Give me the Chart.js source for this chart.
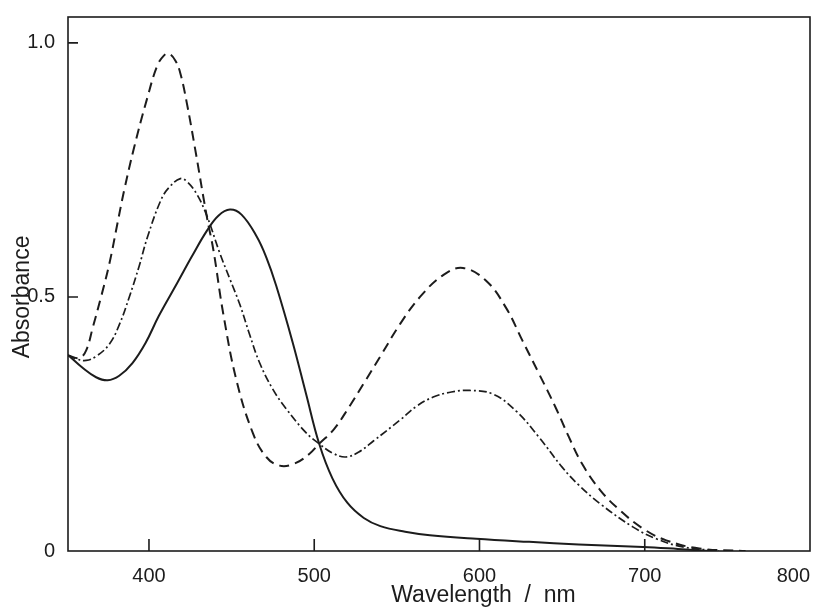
<!DOCTYPE html>
<html>
<head>
<meta charset="utf-8">
<script src="https://cdn.jsdelivr.net/npm/chart.js@4/dist/chart.umd.min.js"></script>
<style>
  html, body { margin: 0; padding: 0; background: #fff; }
  #wrap { width: 821px; height: 608px; }
</style>
</head>
<body>
<div id="wrap"><canvas id="absChart"></canvas></div>
<script>
// solid curve
const solidNm = [351, 360, 368, 375, 382, 390, 398, 406, 417, 426, 435, 442, 449, 456, 465, 471, 477, 487, 495, 503, 511, 520, 530, 540, 555, 570, 598, 630, 660, 699, 720, 739];
const solidAbs = [0.386, 0.36, 0.342, 0.336, 0.345, 0.37, 0.41, 0.463, 0.527, 0.58, 0.63, 0.66, 0.672, 0.662, 0.62, 0.578, 0.522, 0.41, 0.31, 0.211, 0.143, 0.095, 0.065, 0.049, 0.038, 0.031, 0.024, 0.018, 0.013, 0.008, 0.004, 0.0];

// dashed curve
const dashNm = [351, 358, 362, 366, 371, 376, 381, 385, 391, 399, 405, 409, 412, 416, 419, 423, 428, 435, 439, 445, 453, 463, 471, 479, 488, 497, 503, 512, 521, 530, 540, 552, 564, 578, 590, 604, 616, 626, 636, 646, 654, 662, 673, 685, 699, 713, 733, 761];
const dashAbs = [0.385, 0.38, 0.395, 0.44, 0.5, 0.565, 0.646, 0.71, 0.794, 0.892, 0.955, 0.975, 0.979, 0.965, 0.94, 0.88, 0.79, 0.658, 0.592, 0.466, 0.335, 0.231, 0.185, 0.168, 0.172, 0.191, 0.211, 0.24, 0.283, 0.33, 0.383, 0.447, 0.5, 0.543, 0.557, 0.532, 0.479, 0.414, 0.349, 0.283, 0.225, 0.172, 0.12, 0.08, 0.044, 0.021, 0.005, 0.0];

// dash-dot curve
const dotNm = [351, 356, 362, 368, 376, 382, 388, 394, 399, 407, 412, 419, 423, 429, 435, 443, 449, 455, 461, 467, 475, 483, 495, 503, 511, 519, 527, 536, 552, 562, 572, 583, 594, 608, 622, 636, 650, 660, 673, 693, 707, 723, 745];
const dotAbs = [0.385, 0.378, 0.375, 0.383, 0.407, 0.445, 0.499, 0.56, 0.617, 0.689, 0.715, 0.733, 0.727, 0.702, 0.66, 0.585, 0.535, 0.485, 0.425, 0.37, 0.318, 0.28, 0.233, 0.211, 0.193, 0.185, 0.195, 0.217, 0.258, 0.285, 0.303, 0.313, 0.316, 0.309, 0.276, 0.224, 0.165, 0.13, 0.093, 0.047, 0.024, 0.008, 0.0];

const xTicks = [400, 500, 600, 700, 800];
const yTicks = [0, 0.5, 1.0];
const yTickLabels = ["0", "0.5", "1.0"];

const ink = "#1c1c1c";
const fontFamily = "'Liberation Sans', Arial, sans-serif";

function pts(xs, ys) {
  return xs.map((x, i) => ({ x: x, y: ys[i] }));
}

// box around the plot, inward tick marks, axis titles
const framePlugin = {
  id: "frame",
  afterDraw(chart) {
    const ctx = chart.ctx;
    const a = chart.chartArea;
    const xs = chart.scales.x;
    const ys = chart.scales.y;
    ctx.save();
    ctx.strokeStyle = ink;
    ctx.lineWidth = 1.6;
    ctx.strokeRect(a.left, a.top, a.right - a.left, a.bottom - a.top);
    ctx.beginPath();
    xTicks.slice(0, -1).forEach(v => {
      const px = xs.getPixelForValue(v);
      ctx.moveTo(px, a.bottom);
      ctx.lineTo(px, a.bottom - 12);
    });
    yTicks.slice(1).forEach(v => {
      const py = ys.getPixelForValue(v);
      ctx.moveTo(a.left, py);
      ctx.lineTo(a.left + 10, py);
    });
    ctx.stroke();

    ctx.fillStyle = ink;
    ctx.font = "23px " + fontFamily;
    ctx.textAlign = "center";
    ctx.textBaseline = "middle";
    ctx.fillText("Wavelength  /  nm", xs.getPixelForValue(600) + 4, 596);
    ctx.translate(23, ys.getPixelForValue(0.5));
    ctx.rotate(-Math.PI / 2);
    ctx.fillText("Absorbance", 0, 0);
    ctx.restore();
  },
};

const absData = {
  datasets: [
    {
      label: "solid",
      data: pts(solidNm, solidAbs),
      borderColor: ink,
      borderWidth: 2,
    },
    {
      label: "dashed",
      data: pts(dashNm, dashAbs),
      borderColor: ink,
      borderWidth: 2,
      borderDash: [10, 6],
    },
    {
      label: "dash-dot",
      data: pts(dotNm, dotAbs),
      borderColor: ink,
      borderWidth: 1.7,
      borderDash: [8, 3, 2, 3],
    },
  ],
};

const absOptions = {
  responsive: true,
  maintainAspectRatio: false,
  animation: false,
  layout: { padding: { top: 16, right: 11, left: 0, bottom: 0 } },
  elements: {
    point: { radius: 0 },
    line: { tension: 0.4, fill: false },
  },
  plugins: {
    legend: { display: false },
    tooltip: { enabled: false },
  },
  scales: {
    x: {
      type: "linear",
      min: 351,
      max: 800,
      grid: { display: false },
      border: { display: false },
      afterBuildTicks: s => {
        s.ticks = [s.min].concat(xTicks).map(v => ({ value: v }));
      },
      afterFit: s => {
        s.height = 57;
        s.paddingLeft = 0;
        s.paddingRight = 0;
      },
      ticks: {
        align: "inner",
        padding: 5,
        color: ink,
        font: { size: 20, family: fontFamily },
        callback: v => (xTicks.includes(v) ? String(v) : ""),
      },
    },
    y: {
      min: 0,
      max: 1.051,
      grid: { display: false },
      border: { display: false },
      afterBuildTicks: s => {
        s.ticks = yTicks.map(v => ({ value: v }));
      },
      afterFit: s => {
        s.width = 68;
      },
      ticks: {
        padding: 5,
        color: ink,
        font: { size: 20, family: fontFamily },
        callback: v => yTickLabels[yTicks.indexOf(v)],
      },
    },
  },
};

const absChart = new Chart(document.getElementById("absChart"), {
  type: "line",
  data: absData,
  options: absOptions,
  plugins: [framePlugin],
});
</script>
</body>
</html>
